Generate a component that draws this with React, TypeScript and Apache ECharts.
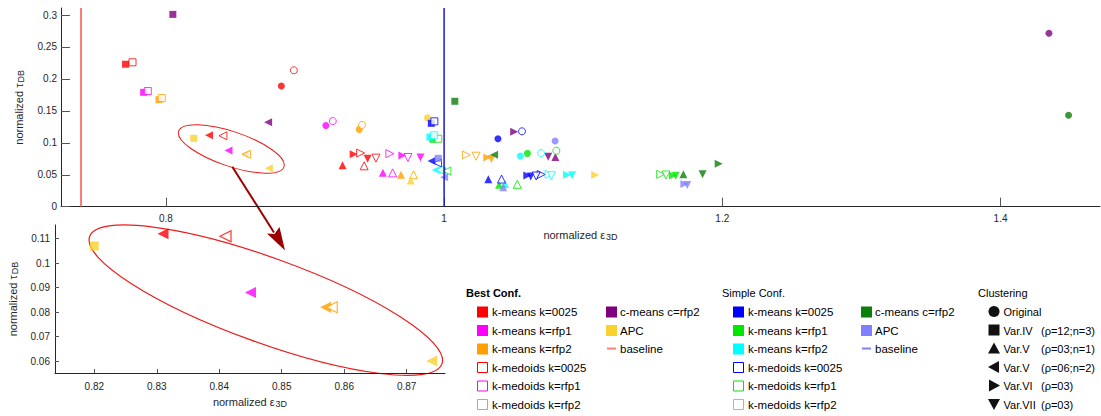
import React, { useEffect, useRef } from "react";
import * as echarts from "echarts";

// ---------- data ----------
// variant order: Original, Var.IV, Var.V (ρ=03;n=1), Var.V (ρ=06;n=2), Var.VI, Var.VII
const variantNames = ["Original", "Var.IV", "Var.V", "Var.V", "Var.VI", "Var.VII"];
const variantParams = ["", "(ρ=12;n=3)", "(ρ=03;n=1)", "(ρ=06;n=2)", "(ρ=03)", "(ρ=03)"];

const bestKmeans0025 = [[0.883, 0.189], [0.771, 0.223], [0.927, 0.065], [0.831, 0.112], [0.935, 0.082], [0.945, 0.075]];
const bestKmeansRfp1 = [[0.915, 0.127], [0.784, 0.179], [0.956, 0.053], [0.845, 0.088], [0.970, 0.080], [0.983, 0.077]];
const bestKmeansRfp2 = [[0.939, 0.121], [0.795, 0.1675], [0.969, 0.050], [0.857, 0.082], [1.031, 0.077], [1.034, 0.0746]];
const bestKmedoids0025 = [[0.892, 0.2135], [0.776, 0.226], [0.9425, 0.064], [0.841, 0.111], [0.940, 0.084], [0.951, 0.076]];
const bestKmedoidsRfp1 = [[0.920, 0.134], [0.787, 0.181], [0.963, 0.053], null, [0.961, 0.083], [0.974, 0.077]];
const bestKmedoidsRfp2 = [[0.941, 0.128], [0.797, 0.170], [0.978, 0.050], [0.858, 0.082], [1.016, 0.081], [1.023, 0.079]];
const bestCmeansRfp2 = [[1.4348, 0.2714], [0.805, 0.301], [1.080, 0.0778], [0.8735, 0.132], [1.0504, 0.1174], [1.0748, 0.0782]];
const bestApc = [[0.988, 0.139], [0.820, 0.107], [0.976, 0.041], [0.874, 0.060], [1.1086, 0.0496], null];

const simpleKmeans0025 = [[1.0387, 0.1064], [0.9908, 0.1305], [1.0318, 0.0429], [0.991, 0.0715], [1.0598, 0.0488], [1.0623, 0.0473]];
const simpleKmeansRfp1 = [[1.0599, 0.0835], [0.9919, 0.1055], [1.0395, 0.0344], [0.9985, 0.0559], [1.1645, 0.049], [1.1665, 0.0485]];
const simpleKmeansRfp2 = [[1.0548, 0.0793], [0.9898, 0.109], [1.0438, 0.0355], [0.994, 0.0574], [1.0884, 0.0501], [1.092, 0.0491]];
const simpleKmedoids0025 = [[1.056, 0.118], [0.993, 0.1336], [1.0413, 0.0433], [0.9953, 0.0684], [1.0698, 0.0504], [1.0662, 0.048]];
const simpleKmedoidsRfp1 = [[1.0807, 0.0876], [0.9958, 0.1064], [1.0526, 0.035], [1.002, 0.0559], [1.1557, 0.0507], [1.1595, 0.0496]];
const simpleKmedoidsRfp2 = [[1.0697, 0.084], [0.9926, 0.1117], null, [0.9969, 0.0574], [1.0755, 0.0507], [1.0771, 0.0485]];
const simpleCmeansRfp2 = [[1.4489, 0.143], [1.0077, 0.165], [1.172, 0.0507], [1.0359, 0.0814], [1.1974, 0.0673], [1.1858, 0.0507]];
const simpleApc = [[1.0798, 0.1028], [0.9958, 0.0757], [1.0425, 0.0304], [1.0, 0.046], [1.1727, 0.0355], [1.1748, 0.034]];

const baselineBest = 0.739;
const baselineSimple = 1.0;

const xTicksMain = [0.8, 1, 1.2, 1.4];
const yTicksMain = [0, 0.05, 0.1, 0.15, 0.2, 0.25, 0.3];
const xTicksInset = [0.82, 0.83, 0.84, 0.85, 0.86, 0.87];
const yTicksInset = [0.06, 0.07, 0.08, 0.09, 0.1, 0.11];

const bestLabels = ["k-means k=0025", "k-means k=rfp1", "k-means k=rfp2", "k-medoids k=0025", "k-medoids k=rfp1", "k-medoids k=rfp2", "c-means c=rfp2", "APC"];
const simpleLabels = bestLabels;

// ---------- styles ----------
const FONT = "Liberation Sans, Arial, Helvetica, sans-serif";
const bestColors = ["#ff0000", "#ff00ff", "#ffa000", "#ff0000", "#ff00ff", "#ffa000", "#7f007f", "#f9d22e"];
const simpleColors = ["#0000ff", "#00e600", "#00ffff", "#0000ff", "#00e600", "#00ffff", "#0a7f0a", "#8080ff"];
const hollowFlags = [false, false, false, true, true, true, false, false];
const SYM: [string, number][] = [["circle", 0], ["rect", 0], ["triangle", 0], ["triangle", 90], ["triangle", -90], ["triangle", 180]];
const SIZE_MAIN = [7, 7, 8, 8, 8, 8];
const SIZE_INSET = [8, 9, 11, 11, 11, 11];

const bestData = [bestKmeans0025, bestKmeansRfp1, bestKmeansRfp2, bestKmedoids0025, bestKmedoidsRfp1, bestKmedoidsRfp2, bestCmeansRfp2, bestApc];
const simpleData = [simpleKmeans0025, simpleKmeansRfp1, simpleKmeansRfp2, simpleKmedoids0025, simpleKmedoidsRfp1, simpleKmedoidsRfp2, simpleCmeansRfp2, simpleApc];

function buildOption() {
  const series: any[] = [];
  // baselines
  series.push({
    type: "line", xAxisIndex: 0, yAxisIndex: 0, showSymbol: false, silent: true,
    data: [[baselineBest, 0], [baselineBest, 0.311]],
    lineStyle: { color: "#ff4d4d", width: 1.5 },
  });
  series.push({
    type: "line", xAxisIndex: 0, yAxisIndex: 0, showSymbol: false, silent: true,
    data: [[baselineSimple, 0], [baselineSimple, 0.311]],
    lineStyle: { color: "#1a1acc", width: 1.5 },
  });
  const addGroup = (datas: any[], labels: string[], colors: string[], prefix: string) => {
    datas.forEach((arr, ci) => {
      [0, 1].forEach((g) => {
        const sizes = g === 0 ? SIZE_MAIN : SIZE_INSET;
        const pts = arr
          .map((p: any, i: number) => (p ? { value: p, symbol: SYM[i][0], symbolRotate: SYM[i][1], symbolSize: sizes[i] } : null))
          .filter(Boolean);
        series.push({
          type: "scatter",
          name: prefix + labels[ci],
          xAxisIndex: g,
          yAxisIndex: g,
          clip: true,
          silent: true,
          data: pts,
          itemStyle: hollowFlags[ci]
            ? { color: "#ffffff", borderColor: colors[ci], borderWidth: g === 0 ? 1 : 1.2 }
            : { color: colors[ci] },
        });
      });
    });
  };
  addGroup(bestData, bestLabels, bestColors, "Best ");
  addGroup(simpleData, simpleLabels, simpleColors, "Simple ");

  const axisCommon = (ticks: number[], tickLen: number) => ({
    type: "value",
    axisLine: { show: true, onZero: false, lineStyle: { color: "#262626", width: 1 } },
    axisTick: { show: true, inside: true, length: tickLen, customValues: ticks, lineStyle: { color: "#555555" } },
    axisLabel: { customValues: ticks, fontSize: 10, color: "#262626", fontFamily: FONT },
    splitLine: { show: false },
  });

  const xName = "{a|normalized ε}{b|3D}";
  const yName = "{a|normalized τ}{b|DB}";
  const richX = {
    a: { fontSize: 11, fontFamily: FONT, color: "#262626", lineHeight: 12, verticalAlign: "top" },
    b: { fontSize: 9, fontFamily: FONT, color: "#262626", lineHeight: 9, padding: [8, 0, 0, 1], verticalAlign: "bottom" },
  };

  const xAxis = [
    { ...axisCommon(xTicksMain, 9), gridIndex: 0, min: 0.7246, max: 1.4715, axisLabel: { ...axisCommon(xTicksMain, 9).axisLabel, margin: 7 },
      name: xName, nameLocation: "middle", nameGap: 21, nameTextStyle: { rich: richX } },
    { ...axisCommon(xTicksInset, 4), gridIndex: 1, min: 0.81371, max: 0.87613, axisLabel: { ...axisCommon(xTicksInset, 4).axisLabel, margin: 8 },
      name: xName, nameLocation: "middle", nameGap: 21, nameTextStyle: { rich: richX } },
  ];
  const yAxis = [
    { ...axisCommon(yTicksMain, 9), gridIndex: 0, min: 0, max: 0.311, axisLabel: { ...axisCommon(yTicksMain, 9).axisLabel, margin: 4 },
      name: yName, nameLocation: "middle", nameGap: 36, nameTextStyle: { rich: richX } },
    { ...axisCommon(yTicksInset, 4), gridIndex: 1, min: 0.0551, max: 0.1156, axisLabel: { ...axisCommon(yTicksInset, 4).axisLabel, margin: 5 },
      name: yName, nameLocation: "middle", nameGap: 36, nameTextStyle: { rich: richX } },
  ];

  // ---------- legend & annotations ----------
  const g: any[] = [];
  const txt = (x: number, y: number, text: string, opts: any = {}) =>
    g.push({ type: "text", x, y, silent: true, style: { text, fontSize: 11.5, fontFamily: FONT, fill: "#000", verticalAlign: "middle", align: "left", ...opts } });
  const rows = [311.5, 330, 348.5, 367, 385.5, 404];

  const legendBlock = (headerX: number, header: string, bold: boolean, c1x: number, c2x: number, labels: string[], colors: string[], baseColor: string) => {
    txt(headerX, 293, header, { fontWeight: bold ? "bold" : "normal", fontSize: 11 });
    const order = [0, 1, 2, 3, 4, 5];
    order.forEach((ci, r) => {
      const hollow = hollowFlags[ci];
      g.push({ type: "rect", silent: true, shape: { x: c1x + (hollow ? 0.5 : 0), y: rows[r] - 5 + (hollow ? 0.5 : 0), width: hollow ? 10 : 11, height: hollow ? 10 : 11 },
        style: hollow ? { fill: "#fff", stroke: colors[ci], lineWidth: 1 } : { fill: colors[ci] } });
      txt(c1x + 15, rows[r] + 0.5, labels[ci]);
    });
    [6, 7].forEach((ci, r) => {
      g.push({ type: "rect", silent: true, shape: { x: c2x, y: rows[r] - 5, width: 11, height: 11 }, style: { fill: colors[ci] } });
      txt(c2x + 14, rows[r] + 0.5, labels[ci]);
    });
    g.push({ type: "line", silent: true, shape: { x1: c2x + 1, y1: rows[2], x2: c2x + 10, y2: rows[2] }, style: { stroke: baseColor, lineWidth: 2 } });
    txt(c2x + 14, rows[2] + 0.5, "baseline");
  };
  legendBlock(466, "Best Conf.", true, 477, 606, bestLabels, bestColors, "#ff8080");
  legendBlock(722, "Simple Conf.", false, 733, 861, simpleLabels, simpleColors, "#8080ff");

  // clustering legend
  txt(978, 292.5, "Clustering", { fontSize: 11 });
  const cx = 994;
  variantNames.forEach((nm, i) => {
    const y = rows[i];
    if (i === 0) g.push({ type: "circle", silent: true, shape: { cx, cy: y, r: 5.5 }, style: { fill: "#111" } });
    if (i === 1) g.push({ type: "rect", silent: true, shape: { x: cx - 5.5, y: y - 5.5, width: 11, height: 11 }, style: { fill: "#111" } });
    if (i === 2) g.push({ type: "polygon", silent: true, shape: { points: [[cx, y - 6], [cx + 6, y + 5], [cx - 6, y + 5]] }, style: { fill: "#111" } });
    if (i === 3) g.push({ type: "polygon", silent: true, shape: { points: [[cx - 6, y], [cx + 5, y - 6], [cx + 5, y + 6]] }, style: { fill: "#111" } });
    if (i === 4) g.push({ type: "polygon", silent: true, shape: { points: [[cx + 6, y], [cx - 5, y - 6], [cx - 5, y + 6]] }, style: { fill: "#111" } });
    if (i === 5) g.push({ type: "polygon", silent: true, shape: { points: [[cx - 6, y - 5], [cx + 6, y - 5], [cx, y + 6]] }, style: { fill: "#111" } });
    txt(1003.5, y + 0.5, nm, { fontSize: 11 });
    if (variantParams[i]) txt(1041, y + 0.5, variantParams[i], { fontSize: 11 });
  });

  // ellipses and arrow
  g.push({ type: "ellipse", silent: true, x: 231.3, y: 149, rotation: -0.3255, shape: { cx: 0, cy: 0, rx: 55.6, ry: 17.3 }, style: { fill: "none", stroke: "#ee1c1c", lineWidth: 1 } });
  g.push({ type: "ellipse", silent: true, x: 265.8, y: 300.2, rotation: -0.3468, shape: { cx: 0, cy: 0, rx: 187.4, ry: 42.5 }, style: { fill: "none", stroke: "#ee1c1c", lineWidth: 1.2 } });
  g.push({ type: "line", silent: true, shape: { x1: 232.3, y1: 166.7, x2: 274, y2: 232.5 }, style: { stroke: "#9b0000", lineWidth: 2 } });
  g.push({ type: "polygon", silent: true, shape: { points: [[285, 250.5], [279.5, 227], [274.5, 234], [267, 233.5]] }, style: { fill: "#9b0000" } });

  return {
    animation: false,
    backgroundColor: "#ffffff",
    grid: [
      { left: 57, top: 8, width: 1043, height: 198.7 },
      { left: 55, top: 225, width: 390, height: 148 },
    ],
    xAxis,
    yAxis,
    series,
    graphic: g,
  };
}

export default function App() {
  const ref = useRef<HTMLDivElement>(null);
  useEffect(() => {
    if (!ref.current) return;
    const chart = echarts.init(ref.current, undefined, { renderer: "svg" });
    chart.setOption(buildOption() as any);
    return () => chart.dispose();
  }, []);
  return <div ref={ref} style={{ position: "absolute", left: 0, top: 0, width: 1101, height: 416 }} />;
}
